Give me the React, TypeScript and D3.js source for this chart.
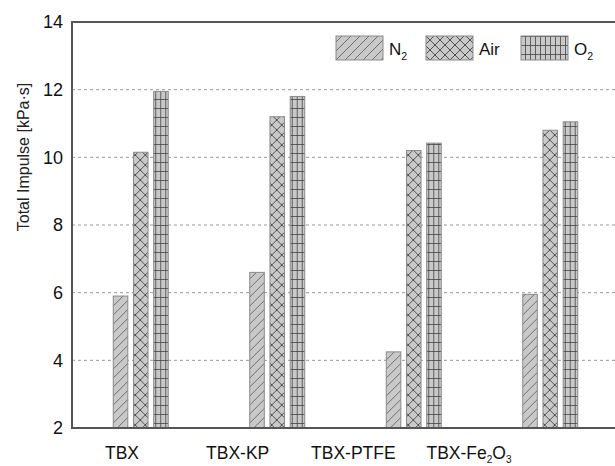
import React from 'react';
import * as d3 from 'd3';

const categories = ['TBX', 'TBX-KP', 'TBX-PTFE', 'TBX-Fe2O3'];
const gases = ['N2', 'Air', 'O2'];
const n2Values = [5.9, 6.6, 4.25, 5.95];
const airValues = [10.15, 11.2, 10.2, 10.8];
const o2Values = [11.95, 11.8, 10.42, 11.05];
const yTicks = [2, 4, 6, 8, 10, 12, 14];

const width = 615;
const height = 466;
const margin = { top: 22, right: -3, bottom: 38, left: 72 };
const font = 'Liberation Sans, Arial, sans-serif';

const x = d3
  .scaleBand()
  .domain(categories)
  .range([margin.left, width - margin.right]);

const xGas = d3.scaleBand().domain(gases).range([-27, 28]).paddingInner(0.28);

const y = d3
  .scaleLinear()
  .domain([2, 14])
  .range([height - margin.bottom, margin.top]);

// category labels sit on their own spacing in the original figure
const xLabel = d3.scalePoint().domain(categories).range([122, 469]);

const seriesValues = { N2: n2Values, Air: airValues, O2: o2Values };
const patternId = { N2: 'hatch', Air: 'cross', O2: 'grid' };

const Sub = ({ main, sub, size }) => (
  <>
    {main}
    <tspan fontSize={size * 0.62} dy={size * 0.3}>
      {sub}
    </tspan>
  </>
);

const categoryLabel = c => {
  if (c === 'TBX-Fe2O3') {
    return (
      <>
        TBX-Fe
        <tspan fontSize={10} dy={4}>2</tspan>
        <tspan dy={-4}>O</tspan>
        <tspan fontSize={10} dy={4}>3</tspan>
      </>
    );
  }
  return c;
};

const legendItems = [
  { key: 'N2', x: 336, main: 'N', sub: '2' },
  { key: 'Air', x: 426, main: 'Air', sub: '' },
  { key: 'O2', x: 521, main: 'O', sub: '2' },
];

export default function App() {
  const bottom = y(2);
  return (
    <svg width={width} height={height} style={{ position: 'absolute', left: 0, top: 0 }}>
      <defs>
        <pattern id="hatch" patternUnits="userSpaceOnUse" width={9} height={9}>
          <rect width={9} height={9} fill="#c9c9c9" />
          <path d="M-1,10 L10,-1 M-2,2 L2,-2 M7,11 L11,7" stroke="#555" strokeWidth={0.8} />
        </pattern>
        <pattern id="cross" patternUnits="userSpaceOnUse" width={10} height={10}>
          <rect width={10} height={10} fill="#c9c9c9" />
          <path d="M0,0 L10,10 M10,0 L0,10" stroke="#444" strokeWidth={0.9} />
        </pattern>
        <pattern id="grid" patternUnits="userSpaceOnUse" width={5} height={9}>
          <rect width={5} height={9} fill="#c9c9c9" />
          <path d="M0.5,0 L0.5,9 M0,0.5 L5,0.5" stroke="#444" strokeWidth={0.8} />
        </pattern>
      </defs>

      {yTicks
        .filter(t => t > 2 && t < 14)
        .map(t => (
          <line
            key={t}
            x1={margin.left}
            x2={width}
            y1={y(t)}
            y2={y(t)}
            stroke="#999"
            strokeWidth={1}
            strokeDasharray="3,3"
          />
        ))}

      {categories.map((c, i) => (
        <g key={c} transform={`translate(${x(c) + x.bandwidth() / 2},0)`}>
          {gases.map(g => {
            const v = seriesValues[g][i];
            return (
              <rect
                key={g}
                x={xGas(g)}
                y={y(v)}
                width={xGas.bandwidth()}
                height={bottom - y(v)}
                fill={`url(#${patternId[g]})`}
                stroke="#8a8a8a"
                strokeWidth={1}
              />
            );
          })}
        </g>
      ))}

      <path
        d={`M${width},${margin.top} H${margin.left} V${bottom} H${width}`}
        fill="none"
        stroke="#555"
        strokeWidth={2}
      />

      {yTicks.map(t => (
        <text
          key={t}
          x={63}
          y={y(t)}
          dy="0.35em"
          textAnchor="end"
          fontFamily={font}
          fontSize={18}
          fill="#111"
        >
          {t}
        </text>
      ))}

      {categories.map(c => (
        <text
          key={c}
          x={xLabel(c)}
          y={459}
          textAnchor="middle"
          fontFamily={font}
          fontSize={17.5}
          fill="#111"
        >
          {categoryLabel(c)}
        </text>
      ))}

      <text
        transform="translate(29,157) rotate(-90)"
        textAnchor="middle"
        fontFamily={font}
        fontSize={16}
        fill="#222"
      >
        Total Impulse [kPa·s]
      </text>

      {legendItems.map(it => (
        <g key={it.key}>
          <rect
            x={it.x}
            y={36}
            width={47}
            height={24}
            fill={`url(#${patternId[it.key]})`}
            stroke="#8a8a8a"
            strokeWidth={1}
          />
          <text x={it.x + 53} y={55} fontFamily={font} fontSize={17} fill="#111">
            {it.sub ? <Sub main={it.main} sub={it.sub} size={17} /> : it.main}
          </text>
        </g>
      ))}
    </svg>
  );
}
